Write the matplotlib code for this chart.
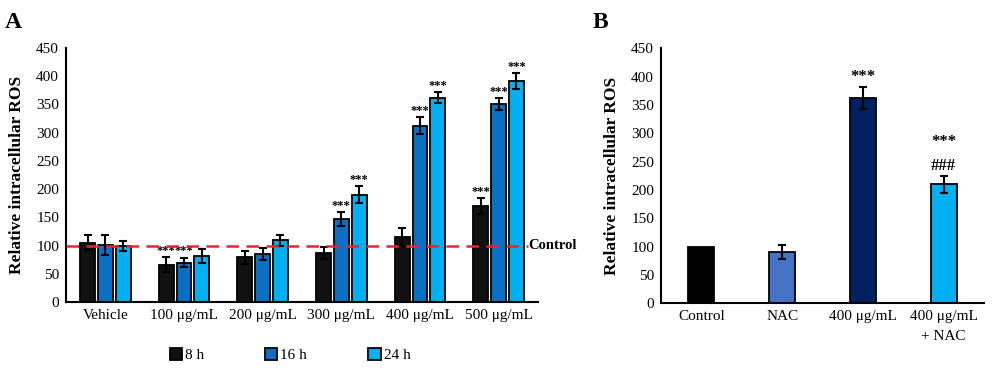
"""
Relative intracellular ROS: time course (A) and NAC rescue (B).
"""

import matplotlib.pyplot as plt
import numpy as np
from matplotlib.patches import Patch

plt.rcParams["font.family"] = ["Liberation Serif", "DejaVu Serif"]

# Panel A data
doses = ["Vehicle", "100 μg/mL", "200 μg/mL", "300 μg/mL", "400 μg/mL", "500 μg/mL"]
times = ["8 h", "16 h", "24 h"]
ros_8h = [105, 66, 79, 87, 115, 170]
ros_16h = [101, 70, 85, 147, 312, 351]
ros_24h = [99, 82, 109, 190, 362, 391]
err_8h = [13, 13, 12, 10, 16, 14]
err_16h = [17, 8, 10, 12, 15, 10]
err_24h = [9, 12, 9, 15, 10, 14]
stars_8h = ["", "***", "", "", "", "***"]
stars_16h = ["", "***", "", "***", "***", "***"]
stars_24h = ["", "", "", "***", "***", "***"]
time_colors = ["#111111", "#0b70c4", "#00b0f0"]

# Panel B data
groups_b = ["Control", "NAC", "400 μg/mL", "400 μg/mL\n+ NAC"]
ros_b = [100, 90, 362, 210]
err_b = [0, 12, 20, 15]
marks_b = ["", "", "***", "***\n###"]
colors_b = ["#000000", "#4472c4", "#002060", "#00b0f0"]

fig = plt.figure(figsize=(10, 3.74), dpi=100)
ax_a = fig.add_axes([0.066, 0.1925, 0.472, 0.679])
ax_b = fig.add_axes([0.661, 0.189, 0.323, 0.682])

x = np.arange(len(doses))
step = 0.225
width = 0.19
series = zip([ros_8h, ros_16h, ros_24h], [err_8h, err_16h, err_24h],
             [stars_8h, stars_16h, stars_24h], time_colors)
for i, (vals, errs, stars, col) in enumerate(series):
    pos = x + (i - 1) * step
    ax_a.bar(pos, vals, width, color=col, edgecolor="black", linewidth=1.3, zorder=2)
    ax_a.errorbar(pos, vals, yerr=errs, fmt="none", ecolor="black",
                  elinewidth=1.5, capsize=3, capthick=1.5, zorder=3)
    for p, v, e, s in zip(pos, vals, errs, stars):
        if s:
            ax_a.text(p, v + e + 1, s, ha="center", va="bottom",
                      fontsize=9, fontweight="bold")

ax_a.plot([-0.5, 5.37], [100, 100], color="#e8262a", linestyle=(0, (5, 3)),
          linewidth=1.8, zorder=4)
ax_a.text(5.38, 100, "Control", ha="left", va="center", fontsize=10.5,
          fontweight="bold")

ax_a.set_xlim(-0.5, 5.5)
ax_a.set_ylim(0, 450)
ax_a.set_yticks(range(0, 451, 50))
ax_a.set_xticks(x)
ax_a.set_xticklabels(doses)
ax_a.set_ylabel("Relative intracellular ROS", fontsize=12.5, fontweight="bold",
                labelpad=8)

xb = np.arange(len(groups_b))
ax_b.bar(xb, ros_b, 0.32, color=colors_b, edgecolor="black", linewidth=1.3, zorder=2)
ax_b.errorbar(xb[1:], ros_b[1:], yerr=err_b[1:], fmt="none", ecolor="black",
              elinewidth=1.5, capsize=3, capthick=1.5, zorder=3)
for p, v, e, m in zip(xb, ros_b, err_b, marks_b):
    if m:
        ax_b.text(p, v + e + 4, m, ha="center", va="bottom", fontsize=12,
                  fontweight="bold", linespacing=1.65)

ax_b.set_xlim(-0.5, 3.5)
ax_b.set_ylim(0, 450)
ax_b.set_yticks(range(0, 451, 50))
ax_b.set_xticks(xb)
ax_b.set_xticklabels(groups_b, linespacing=1.7)
ax_b.set_ylabel("Relative intracellular ROS", fontsize=12.5, fontweight="bold",
                labelpad=8)

for ax in (ax_a, ax_b):
    for side in ("top", "right"):
        ax.spines[side].set_visible(False)
    ax.spines["left"].set_linewidth(1.5)
    ax.spines["bottom"].set_linewidth(1.5)
    ax.tick_params(axis="both", length=0, labelsize=11, pad=5)

handles = [Patch(facecolor=c, edgecolor="black", linewidth=1.3) for c in time_colors]
fig.legend(handles, times, loc="center", bbox_to_anchor=(0.29, 0.05), ncol=3,
           frameon=False, fontsize=11, handlelength=0.8, handleheight=0.8,
           handletextpad=0.2, columnspacing=4.0)

fig.text(0.005, 0.94, "A", fontsize=17, fontweight="bold", va="center")
fig.text(0.593, 0.94, "B", fontsize=17, fontweight="bold", va="center")

fig.savefig("out.png", dpi=100)
